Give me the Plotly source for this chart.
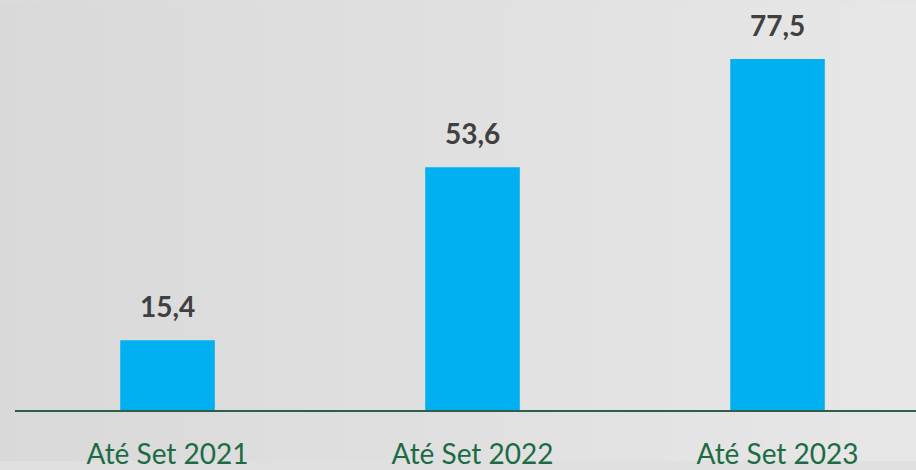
import base64

import plotly.graph_objs as go

categorias = ["Até Set 2021", "Até Set 2022", "Até Set 2023"]
valores = [15.4, 53.6, 77.5]
rotulos = ["15,4", "53,6", "77,5"]

# Fundo com um leve degradê cinza (mais escuro à esquerda)
svg_fundo = (
    '<svg xmlns="http://www.w3.org/2000/svg" width="916" height="470">'
    '<defs><linearGradient id="g" x1="0" y1="0" x2="1" y2="0">'
    '<stop offset="0" stop-color="#d9d9d9"/><stop offset="1" stop-color="#e7e7e7"/>'
    '</linearGradient></defs><rect width="916" height="470" fill="url(#g)"/></svg>'
)
fundo = "data:image/svg+xml;base64," + base64.b64encode(svg_fundo.encode()).decode()

fig = go.Figure()

fig.add_trace(
    go.Bar(
        x=categorias,
        y=valores,
        marker={"color": "#00B0F0", "line": {"width": 0}},
        hoverinfo="skip",
    )
)

# Rótulos de valor acima das barras
for cat, val, txt in zip(categorias, valores, rotulos):
    fig.add_annotation(
        x=cat, y=val, text=txt, showarrow=False,
        yanchor="bottom", yshift=15,
        font={"family": "Lato", "size": 28, "color": "#404040", "weight": "bold"},
    )

fig.update_layout(
    width=916,
    height=470,
    autosize=False,
    paper_bgcolor="#e0e0e0",
    plot_bgcolor="rgba(0,0,0,0)",
    showlegend=False,
    bargap=0.69,
    margin={"l": 15, "r": 0, "t": 10, "b": 52},
    images=[{
        "source": fundo, "xref": "paper", "yref": "paper",
        "x": -15 / 901, "y": 1 + 10 / 408, "sizex": 916 / 901, "sizey": 470 / 408,
        "xanchor": "left", "yanchor": "top", "sizing": "stretch", "layer": "below",
    }],
    xaxis={
        "range": [-0.5, 2.454],
        "showgrid": False,
        "showline": True,
        "linecolor": "#2f5f4a",
        "linewidth": 2,
        "ticks": "outside",
        "ticklen": 18,
        "tickcolor": "rgba(0,0,0,0)",
        "tickfont": {"family": "Lato", "size": 28, "color": "#1d6b45"},
    },
    yaxis={
        "range": [0, 88.3],
        "visible": False,
        "showgrid": False,
        "zeroline": False,
    },
)

# Remove a margem padrão da página para o gráfico ocupar a janela toda
fig.write_html(
    "out.html",
    config={"displayModeBar": False},
    post_script="document.body.style.margin='0';document.body.style.overflow='hidden';",
)
